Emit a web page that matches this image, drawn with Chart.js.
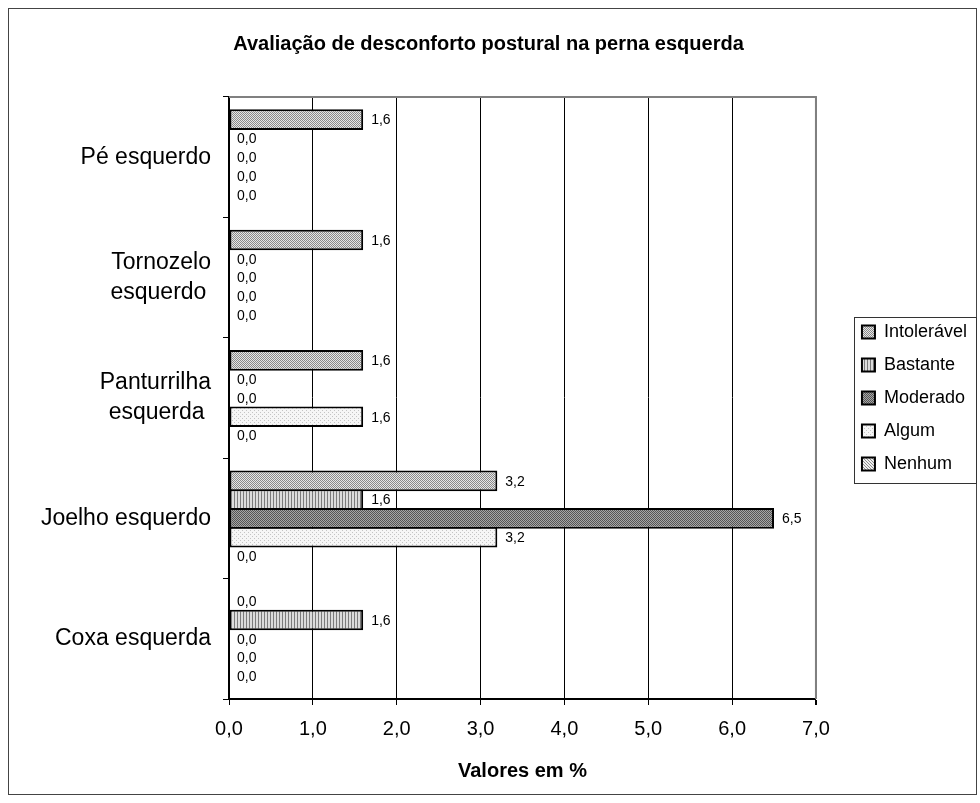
<!DOCTYPE html>
<html lang="pt">
<head>
<meta charset="utf-8">
<title>Avaliação de desconforto postural na perna esquerda</title>
<script src="https://cdn.jsdelivr.net/npm/chart.js@4.4.1/dist/chart.umd.min.js"></script>
<style>
    html, body { margin: 0; padding: 0; background: #fff; }
    #wrap { position: relative; width: 980px; height: 803px; }
</style>
</head>
<body>
<div id="wrap"><canvas id="chart"></canvas></div>
<script>
// ===============================
// Data (values in %)
// ===============================
const categories = [
    "Pé esquerdo",
    ["Tornozelo", "esquerdo\u2009"],
    ["Panturrilha", "esquerda "],
    "Joelho esquerdo",
    "Coxa esquerda"
];
const seriesNames = ["Intolerável", "Bastante", "Moderado", "Algum", "Nenhum"];
const intoleravel = [1.6, 1.6, 1.6, 3.2, 0.0];
const bastante    = [0.0, 0.0, 0.0, 1.6, 1.6];
const moderado    = [0.0, 0.0, 0.0, 6.5, 0.0];
const algum       = [0.0, 0.0, 1.6, 3.2, 0.0];
const nenhum      = [0.0, 0.0, 0.0, 0.0, 0.0];
const xMin = 0, xMax = 7, xStep = 1;

const FONT = '"Liberation Sans", Arial, sans-serif';
const fmt = v => Number(v).toFixed(1).replace(".", ",");

// ===============================
// Grey fill patterns (Excel-like)
// ===============================
function makePattern(w, h, bg, fg, dots) {
    const c = document.createElement("canvas");
    c.width = w; c.height = h;
    const g = c.getContext("2d");
    g.fillStyle = bg;
    g.fillRect(0, 0, w, h);
    g.fillStyle = fg;
    dots.forEach(([x, y]) => g.fillRect(x, y, 1, 1));
    return g.createPattern(c, "repeat");
}

const fills = [
    makePattern(2, 2, "#e6e6e6", "#8a8a8a", [[0, 0], [1, 1]]),          // Intolerável
    makePattern(3, 1, "#dcdcdc", "#7c7c7c", [[0, 0]]),                  // Bastante
    makePattern(2, 2, "#a6a6a6", "#555555", [[0, 0], [1, 1]]),          // Moderado
    makePattern(4, 4, "#f6f6f6", "#c4c4c4", [[0, 0], [2, 2]]),          // Algum
    makePattern(3, 3, "#eeeeee", "#8c8c8c", [[0, 0], [1, 1], [2, 2]])   // Nenhum
];

const values = [intoleravel, bastante, moderado, algum, nenhum];

// zero-width bars draw nothing, so a constant border is fine
const datasets = seriesNames.map((name, i) => ({
    label: name,
    data: values[i],
    backgroundColor: fills[i],
    borderColor: "#000",
    borderWidth: 2,
    borderSkipped: false,
    categoryPercentage: 0.78,
    barPercentage: 1.1
}));

// ===============================
// Plugins: value labels + frames
// ===============================
const valueLabels = {
    id: "valueLabels",
    afterDatasetsDraw(chart) {
        const ctx = chart.ctx;
        ctx.save();
        ctx.font = "14px " + FONT;
        ctx.fillStyle = "#000";
        ctx.textAlign = "left";
        ctx.textBaseline = "middle";
        chart.data.datasets.forEach((ds, i) => {
            chart.getDatasetMeta(i).data.forEach((bar, j) => {
                ctx.fillText(fmt(ds.data[j]), bar.x + 8, bar.y + 1);
            });
        });
        ctx.restore();
    }
};

const frames = {
    id: "frames",
    afterDraw(chart) {
        const ctx = chart.ctx;
        const a = chart.chartArea;
        ctx.save();

        // plot area top / right edge
        ctx.strokeStyle = "#808080";
        ctx.lineWidth = 2;
        ctx.beginPath();
        ctx.moveTo(a.left, a.top);
        ctx.lineTo(a.right, a.top);
        ctx.lineTo(a.right, a.bottom);
        ctx.stroke();

        // outer chart border
        ctx.strokeStyle = "#444";
        ctx.lineWidth = 1;
        ctx.strokeRect(8.5, 8.5, 968, 786);

        // legend frame
        const lg = chart.legend;
        const hb = lg.legendHitBoxes;
        if (hb && hb.length) {
            const top = Math.round(hb[0].top - 6) + 0.5;
            const bottom = Math.round(hb[hb.length - 1].top + 28) + 0.5;
            const left = Math.round(lg.left + 7) + 0.5;
            ctx.strokeStyle = "#333";
            ctx.strokeRect(left, top, lg.right - 0.5 - left, bottom - top);
        }
        ctx.restore();
    }
};

new Chart(document.getElementById("chart"), {
    type: "bar",
    data: { labels: categories, datasets },
    options: {
        indexAxis: "y",
        responsive: true,
        maintainAspectRatio: false,
        animation: false,
        layout: { padding: { top: 8, right: 3, bottom: 0, left: 0 } },
        plugins: {
            title: {
                display: true,
                text: "Avaliação de desconforto postural na perna esquerda",
                color: "#000",
                font: { family: FONT, size: 20, weight: "bold" },
                padding: { top: 24, bottom: 41 }
            },
            legend: {
                position: "right",
                fullSize: false,
                labels: {
                    color: "#000",
                    font: { family: FONT, size: 18 },
                    boxWidth: 13,
                    boxHeight: 13,
                    padding: 15
                }
            },
            tooltip: { enabled: false }
        },
        scales: {
            x: {
                type: "linear",
                min: xMin,
                max: xMax,
                ticks: {
                    stepSize: xStep,
                    color: "#000",
                    font: { family: FONT, size: 20 },
                    padding: 12,
                    callback: v => fmt(v)
                },
                grid: {
                    color: c => (c.tick && c.tick.value === xMax ? "#808080" : "#000"),
                    lineWidth: c => (c.tick && c.tick.value === xMax ? 2 : 1),
                    tickLength: 6,
                    tickColor: "#000"
                },
                border: { color: "#000", width: 2 },
                title: {
                    display: true,
                    text: "Valores em %",
                    color: "#000",
                    font: { family: FONT, size: 20, weight: "bold" },
                    padding: { top: 0, bottom: 20 }
                },
                afterFit: s => { s.height = 104; }
            },
            y: {
                type: "category",
                ticks: {
                    color: "#000",
                    font: { family: FONT, size: 23, lineHeight: 1.3 },
                    padding: 12
                },
                grid: {
                    offset: true,
                    drawOnChartArea: false,
                    drawTicks: true,
                    tickLength: 6,
                    color: "#000"
                },
                border: { color: "#000", width: 2 },
                afterFit: s => { s.width = 229; }
            },
            gap: {
                type: "linear",
                position: "right",
                display: true,
                ticks: { display: false },
                grid: { display: false, drawTicks: false },
                border: { display: false },
                afterFit: s => { s.width = 31; }
            }
        }
    },
    plugins: [valueLabels, frames]
});
</script>
</body>
</html>
